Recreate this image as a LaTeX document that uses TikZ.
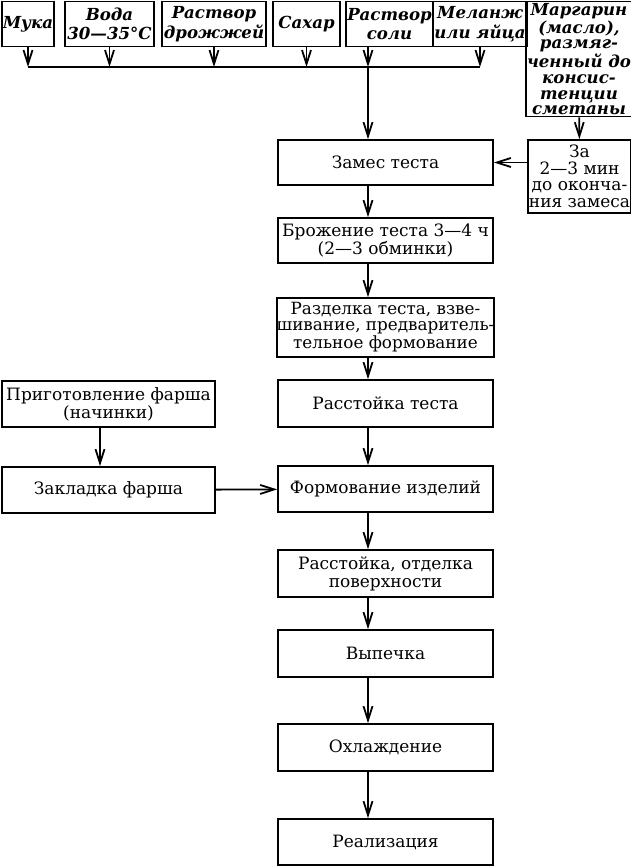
\documentclass[tikz,border=0pt]{standalone}
\usepackage{fontspec}
\setmainfont{DejaVu Serif}
\usetikzlibrary{arrows.meta}

\begin{document}
\begin{tikzpicture}[x=0.5pt,y=-0.5pt,line width=0.9pt,
	>={Straight Barb[length=7pt,width=4.5pt]},
	stage/.style={draw,align=center,inner sep=0.5pt,minimum width=107.5pt,minimum height=23pt,font=\fontsize{8.5}{9}\selectfont},
	input/.style={draw,align=center,inner sep=0.5pt,minimum height=22.5pt,font=\fontsize{8.3}{9.8}\selectfont\bfseries\itshape}]
	\useasboundingbox (0,0) rectangle (631,867);
	
	%TOP ROW
	\node[input,minimum width=26pt] (muka) at (28,24) {Мука};
	\node[input,minimum width=44.5pt] (voda) at (109.5,24) {Вода\\30—35°C};
	\node[input,minimum width=52pt] (drozh) at (214,24) {Раствор\\дрожжей};
	\node[input,minimum width=33.5pt] (sakhar) at (306.5,24) {Сахар};
	\node[input,minimum width=42.5pt] (sol) at (389.5,24) {Раствор\\соли};
	\node[input,minimum width=40pt] (melanzh) at (480,24) {Меланж\\или яйца};
	\node[input,minimum width=51pt,minimum height=57.5pt,font=\fontsize{8.3}{7.8}\selectfont\bfseries\itshape] (margarin) at (579,59) {Маргарин\\(масло),\\размяг-\\ченный до\\консис-\\тенции\\сметаны};
	\node[stage,minimum width=50.5pt,minimum height=36.5pt,font=\fontsize{8.5}{8.3}\selectfont] (za) at (579.5,176.5) {За\\2—3 мин\\до оконча-\\ния замеса};
	
	%MAIN LINE
	\node[stage,minimum height=22.5pt] (zames) at (385.5,162.5) {Замес теста};
	\node[stage,minimum height=22.5pt] (brozh) at (385.5,240.5) {Брожение теста 3—4 ч\\(2—3 обминки)};
	\node[stage,minimum height=29.5pt,inner xsep=0pt,font=\fontsize{8.4}{7.8}\selectfont] (razdelka) at (385.5,327.5) {Разделка теста, взве-\\шивание, предваритель-\\тельное формование};
	\node[stage,minimum height=23.5pt] (rasst) at (385.5,403.5) {Расстойка теста};
	\node[stage] (formov) at (385.5,489) {Формование изделий};
	\node[stage,minimum height=23.5pt] (otdelka) at (385.5,573.5) {Расстойка, отделка\\поверхности};
	\node[stage,minimum height=23.5pt] (vypechka) at (385.5,653.5) {Выпечка};
	\node[stage,minimum height=23.5pt] (okhl) at (385.5,747.5) {Охлаждение};
	\node[stage] (realiz) at (385.5,842) {Реализация};
	
	%FILLING
	\node[stage,minimum width=106.5pt] (prigot) at (108.5,404) {Приготовление фарша\\(начинки)};
	\node[stage,minimum width=106.5pt] (zakladka) at (108.5,490) {Закладка фарша};
	
	%ARROWS
	\coordinate (bus) at (0,67);
	\coordinate (spine) at (368,0);
	\coordinate (leftcol) at (100,0);
	\foreach \n in {muka,voda,drozh,sakhar,melanzh}
		\draw[->] (\n.south) -- (\n.south |- bus);
	\draw[->] (spine |- sol.south) -- (spine |- bus);
	\draw (muka.south |- bus) -- (melanzh.south |- bus);
	\draw[->] (spine |- bus) -- (spine |- zames.north);
	\draw[->] (margarin) -- (za);
	\draw[->] (zames.east -| za.west) -- (zames.east);
	\foreach \a/\b in {zames/brozh,brozh/razdelka,razdelka/rasst,rasst/formov,formov/otdelka,otdelka/vypechka,vypechka/okhl,okhl/realiz}
		\draw[->] (spine |- \a.south) -- (spine |- \b.north);
	\draw[->] (leftcol |- prigot.south) -- (leftcol |- zakladka.north);
	\draw[->] (zakladka) -- (formov);
\end{tikzpicture}
\end{document}
